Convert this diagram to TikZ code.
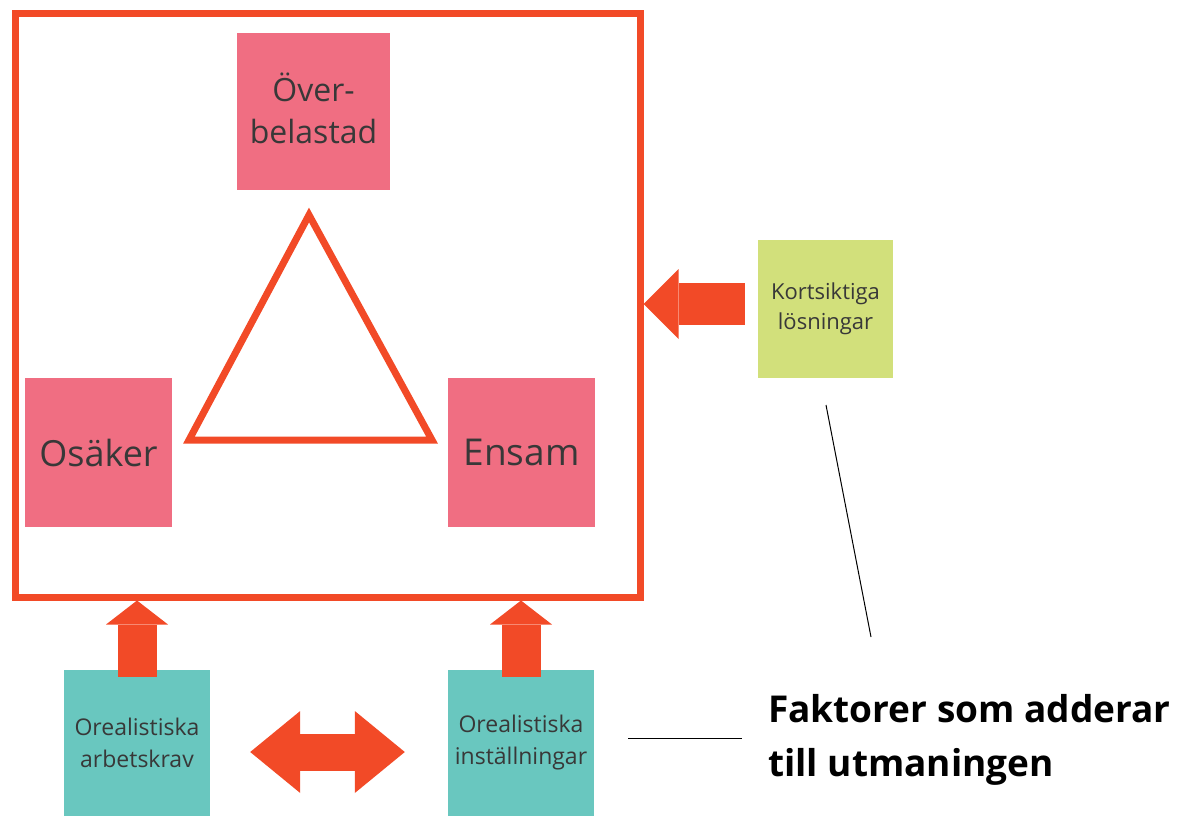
\documentclass[tikz,border=0pt]{standalone}
\usepackage{fontspec}
\setmainfont{Open Sans}
\usetikzlibrary{arrows.meta}
\definecolor{ramrod}{HTML}{F24A27}
\definecolor{rosa}{HTML}{F06E82}
\definecolor{gron}{HTML}{D2E07B}
\definecolor{turkos}{HTML}{69C7BF}
\definecolor{textgra}{HTML}{383838}
\begin{document}
\begin{tikzpicture}[x=1pt,y=-1pt,
  lapp/.style={inner sep=0pt, text=textgra, align=center},
  pilv/.style={ramrod, line width=42pt, -{Triangle[length=35pt, width=70pt, line width=0pt]}},
  pilupp/.style={ramrod, line width=39pt, -{Triangle[length=24pt, width=62pt, line width=0pt]}},
  pildubbel/.style={ramrod, line width=37pt, {Triangle[length=50pt, width=82pt, line width=0pt]}-{Triangle[length=50pt, width=82pt, line width=0pt]}}]
\useasboundingbox (0,0) rectangle (1182,816);
\node (ram) [draw=ramrod, line width=7pt, minimum width=625pt, minimum height=583pt] at (327.5,305.5) {};
\draw [ramrod, line width=7pt, line join=miter] (309,215) -- (432,440) -- (189,440) -- cycle;
\node (over) [lapp, fill=rosa, minimum width=153pt, minimum height=157pt] at (313.5,111.5) {};
\node [lapp, font=\fontsize{32}{42}\selectfont] at (313.5,108) {Över-\\belastad};
\node (osak) [lapp, fill=rosa, minimum width=147pt, minimum height=149pt, font=\fontsize{36}{44}\selectfont] at (98.5,452.5) {Osäker};
\node (ensam) [lapp, fill=rosa, minimum width=147pt, minimum height=149pt, font=\fontsize{37}{44}\selectfont] at (521.5,452.5) {Ensam};
\node (kort) [lapp, fill=gron, minimum width=135pt, minimum height=138pt, font=\fontsize{22}{30}\selectfont] at (825.5,309) {Kortsiktiga\\lösningar};
\node (arb) [lapp, fill=turkos, minimum width=146pt, minimum height=146pt, font=\fontsize{23}{32}\selectfont] at (137,743) {Orealistiska\\arbetskrav};
\node (inst) [lapp, fill=turkos, minimum width=146pt, minimum height=146pt, font=\fontsize{23}{32}\selectfont] at (521,743) {Orealistiska\\inställningar};
\node (faktor) [anchor=north west, inner sep=0pt, align=left, text=black, font=\fontsize{37}{54}\selectfont\bfseries] at (768,694) {Faktorer som adderar\\till utmaningen};
\coordinate (kpil) at ([shift={(-13,-5)}]kort.west);
\draw [pilv] (kpil) -- (kpil -| ram.east);
\draw [pilupp] ([yshift=-7pt]arb.north) -- (arb.north |- ram.south);
\draw [pilupp] ([yshift=-7pt]inst.north) -- (inst.north |- ram.south);
\draw [pildubbel] ([shift={(40,9)}]arb.east) -- ([shift={(-43,9)}]inst.west);
\coordinate (lin1) at (826,405);
\coordinate (lin2) at (871,637);
\draw [black, line width=1pt] (lin1) -- (lin2);
\coordinate (lin3) at (628,738);
\draw [black, line width=1pt] (lin3) -- ([xshift=-26pt]lin3 -| faktor.west);
\end{tikzpicture}
\end{document}
